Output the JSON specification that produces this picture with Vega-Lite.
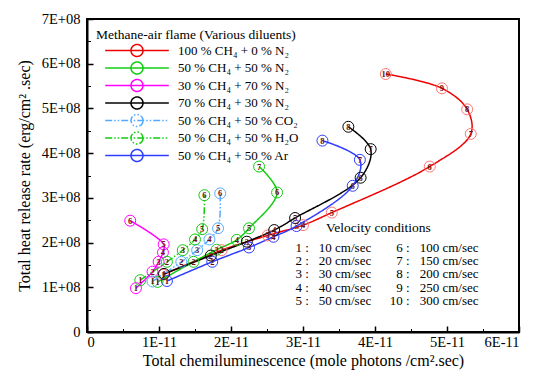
{
  "$schema": "https://vega.github.io/schema/vega-lite/v6.json",
  "width": 432,
  "height": 313,
  "autosize": {"type": "none"},
  "padding": {"left": 87, "top": 19, "right": 19, "bottom": 44},
  "config": {
    "font": "Liberation Serif, Times New Roman, serif",
    "view": {"stroke": "black", "strokeWidth": 2},
    "axis": {
      "grid": false,
      "domainColor": "black",
      "domainWidth": 2,
      "tickColor": "black",
      "tickWidth": 1.5,
      "tickSize": -6,
      "labelFont": "Liberation Serif, Times New Roman, serif",
      "titleFont": "Liberation Serif, Times New Roman, serif",
      "labelFontSize": 14.5,
      "titleFontSize": 16,
      "titleFontWeight": "normal",
      "labelColor": "black",
      "titleColor": "black"
    },
    "legend": {
      "labelFont": "Liberation Serif, Times New Roman, serif",
      "titleFont": "Liberation Serif, Times New Roman, serif"
    },
    "text": {"font": "Liberation Serif, Times New Roman, serif"}
  },
  "datasets": {
    "pts": [
      {"s": "100 % CH₄ + 0 % N₂", "v": 1, "x": 1.056e-11, "y": 1.28e8},
      {"s": "100 % CH₄ + 0 % N₂", "v": 2, "x": 1.87e-11, "y": 1.83e8},
      {"s": "100 % CH₄ + 0 % N₂", "v": 3, "x": 2.51e-11, "y": 2.16e8},
      {"s": "100 % CH₄ + 0 % N₂", "v": 4, "x": 3.0e-11, "y": 2.39e8},
      {"s": "100 % CH₄ + 0 % N₂", "v": 5, "x": 3.4e-11, "y": 2.67e8},
      {"s": "100 % CH₄ + 0 % N₂", "v": 6, "x": 4.76e-11, "y": 3.7e8},
      {"s": "100 % CH₄ + 0 % N₂", "v": 7, "x": 5.33e-11, "y": 4.43e8},
      {"s": "100 % CH₄ + 0 % N₂", "v": 8, "x": 5.28e-11, "y": 4.98e8},
      {"s": "100 % CH₄ + 0 % N₂", "v": 9, "x": 4.93e-11, "y": 5.45e8},
      {"s": "100 % CH₄ + 0 % N₂", "v": 10, "x": 4.15e-11, "y": 5.77e8},
      {"s": "50 % CH₄ + 50 % N₂", "v": 1, "x": 0.98e-11, "y": 1.12e8},
      {"s": "50 % CH₄ + 50 % N₂", "v": 2, "x": 1.48e-11, "y": 1.57e8},
      {"s": "50 % CH₄ + 50 % N₂", "v": 3, "x": 1.8e-11, "y": 1.84e8},
      {"s": "50 % CH₄ + 50 % N₂", "v": 4, "x": 2.08e-11, "y": 2.06e8},
      {"s": "50 % CH₄ + 50 % N₂", "v": 5, "x": 2.25e-11, "y": 2.32e8},
      {"s": "50 % CH₄ + 50 % N₂", "v": 6, "x": 2.64e-11, "y": 3.12e8},
      {"s": "50 % CH₄ + 50 % N₂", "v": 7, "x": 2.39e-11, "y": 3.7e8},
      {"s": "30 % CH₄ + 70 % N₂", "v": 1, "x": 0.68e-11, "y": 0.98e8},
      {"s": "30 % CH₄ + 70 % N₂", "v": 2, "x": 0.91e-11, "y": 1.35e8},
      {"s": "30 % CH₄ + 70 % N₂", "v": 3, "x": 0.995e-11, "y": 1.57e8},
      {"s": "30 % CH₄ + 70 % N₂", "v": 4, "x": 1.055e-11, "y": 1.78e8},
      {"s": "30 % CH₄ + 70 % N₂", "v": 5, "x": 1.065e-11, "y": 1.96e8},
      {"s": "30 % CH₄ + 70 % N₂", "v": 6, "x": 0.6e-11, "y": 2.49e8},
      {"s": "70 % CH₄ + 30 % N₂", "v": 1, "x": 1.07e-11, "y": 1.3e8},
      {"s": "70 % CH₄ + 30 % N₂", "v": 2, "x": 1.72e-11, "y": 1.71e8},
      {"s": "70 % CH₄ + 30 % N₂", "v": 3, "x": 2.22e-11, "y": 2.02e8},
      {"s": "70 % CH₄ + 30 % N₂", "v": 4, "x": 2.6e-11, "y": 2.28e8},
      {"s": "70 % CH₄ + 30 % N₂", "v": 5, "x": 2.89e-11, "y": 2.55e8},
      {"s": "70 % CH₄ + 30 % N₂", "v": 6, "x": 3.8e-11, "y": 3.45e8},
      {"s": "70 % CH₄ + 30 % N₂", "v": 7, "x": 3.94e-11, "y": 4.09e8},
      {"s": "70 % CH₄ + 30 % N₂", "v": 8, "x": 3.63e-11, "y": 4.59e8},
      {"s": "50 % CH₄ + 50 % CO₂", "v": 1, "x": 0.91e-11, "y": 1.13e8},
      {"s": "50 % CH₄ + 50 % CO₂", "v": 2, "x": 1.31e-11, "y": 1.57e8},
      {"s": "50 % CH₄ + 50 % CO₂", "v": 3, "x": 1.53e-11, "y": 1.83e8},
      {"s": "50 % CH₄ + 50 % CO₂", "v": 4, "x": 1.7e-11, "y": 2.07e8},
      {"s": "50 % CH₄ + 50 % CO₂", "v": 5, "x": 1.82e-11, "y": 2.32e8},
      {"s": "50 % CH₄ + 50 % CO₂", "v": 6, "x": 1.85e-11, "y": 3.1e8},
      {"s": "50 % CH₄ + 50 % H₂O", "v": 1, "x": 0.74e-11, "y": 1.16e8},
      {"s": "50 % CH₄ + 50 % H₂O", "v": 2, "x": 1.11e-11, "y": 1.57e8},
      {"s": "50 % CH₄ + 50 % H₂O", "v": 3, "x": 1.33e-11, "y": 1.83e8},
      {"s": "50 % CH₄ + 50 % H₂O", "v": 4, "x": 1.5e-11, "y": 2.07e8},
      {"s": "50 % CH₄ + 50 % H₂O", "v": 5, "x": 1.6e-11, "y": 2.3e8},
      {"s": "50 % CH₄ + 50 % H₂O", "v": 6, "x": 1.63e-11, "y": 3.06e8},
      {"s": "50 % CH₄ + 50 % Ar", "v": 1, "x": 1.11e-11, "y": 1.14e8},
      {"s": "50 % CH₄ + 50 % Ar", "v": 2, "x": 1.74e-11, "y": 1.57e8},
      {"s": "50 % CH₄ + 50 % Ar", "v": 3, "x": 2.25e-11, "y": 1.89e8},
      {"s": "50 % CH₄ + 50 % Ar", "v": 4, "x": 2.59e-11, "y": 2.13e8},
      {"s": "50 % CH₄ + 50 % Ar", "v": 5, "x": 2.91e-11, "y": 2.37e8},
      {"s": "50 % CH₄ + 50 % Ar", "v": 6, "x": 3.69e-11, "y": 3.27e8},
      {"s": "50 % CH₄ + 50 % Ar", "v": 7, "x": 3.79e-11, "y": 3.85e8},
      {"s": "50 % CH₄ + 50 % Ar", "v": 8, "x": 3.27e-11, "y": 4.28e8}
    ],
    "keys": [
      {"x": 3.08e-11, "y": 1.88e8, "t": "1 :"},
      {"x": 3.08e-11, "y": 1.585e8, "t": "2 :"},
      {"x": 3.08e-11, "y": 1.29e8, "t": "3 :"},
      {"x": 3.08e-11, "y": 0.995e8, "t": "4 :"},
      {"x": 3.08e-11, "y": 0.70e8, "t": "5 :"},
      {"x": 4.48e-11, "y": 1.88e8, "t": "6 :"},
      {"x": 4.48e-11, "y": 1.585e8, "t": "7 :"},
      {"x": 4.48e-11, "y": 1.29e8, "t": "8 :"},
      {"x": 4.48e-11, "y": 0.995e8, "t": "9 :"},
      {"x": 4.48e-11, "y": 0.70e8, "t": "10 :"}
    ],
    "vals": [
      {"x": 3.22e-11, "y": 1.88e8, "t": "10 cm/sec"},
      {"x": 3.22e-11, "y": 1.585e8, "t": "20 cm/sec"},
      {"x": 3.22e-11, "y": 1.29e8, "t": "30 cm/sec"},
      {"x": 3.22e-11, "y": 0.995e8, "t": "40 cm/sec"},
      {"x": 3.22e-11, "y": 0.70e8, "t": "50  cm/sec"},
      {"x": 4.62e-11, "y": 1.88e8, "t": "100 cm/sec"},
      {"x": 4.62e-11, "y": 1.585e8, "t": "150  cm/sec"},
      {"x": 4.62e-11, "y": 1.29e8, "t": "200 cm/sec"},
      {"x": 4.62e-11, "y": 0.995e8, "t": "250  cm/sec"},
      {"x": 4.62e-11, "y": 0.70e8, "t": "300  cm/sec"}
    ],
    "head": [
      {"x": 3.32e-11, "y": 2.33e8, "t": "Velocity conditions"}
    ]
  },
  "resolve": {"axis": {"x": "independent", "y": "independent"}},
  "layer": [
    {
      "encoding": {
        "x": {
          "field": "x", "type": "quantitative",
          "scale": {"domain": [0, 6e-11], "nice": false, "zero": false},
          "axis": {
            "orient": "bottom",
            "title": "Total chemiluminescence  (mole photons /cm².sec)",
            "values": [0, 1e-11, 2e-11, 3e-11, 4e-11, 5e-11, 6e-11],
            "labelExpr": "datum.value == 0 ? '0' : round(datum.value * 1e11) + 'E-11'",
            "labelPadding": 9,
            "titlePadding": 4
          }
        },
        "y": {
          "field": "y", "type": "quantitative",
          "scale": {"domain": [0, 7e8], "nice": false},
          "axis": {
            "orient": "left",
            "title": "Total heat release rate  (erg/cm² .sec)",
            "values": [0, 1e8, 2e8, 3e8, 4e8, 5e8, 6e8, 7e8],
            "labelExpr": "datum.value == 0 ? '0' : round(datum.value / 1e8) + 'E+08'",
            "labelPadding": 13,
            "titlePadding": 9
          }
        }
      },
      "layer": [
        {
          "data": {"name": "pts"},
          "mark": {"type": "line", "interpolate": "catmull-rom", "strokeWidth": 1.5},
          "encoding": {
            "order": {"field": "v", "type": "quantitative"},
            "color": {
              "field": "s", "type": "nominal",
              "scale": {
                "domain": ["100 % CH₄ + 0 % N₂", "50 % CH₄ + 50 % N₂", "30 % CH₄ + 70 % N₂", "70 % CH₄ + 30 % N₂", "50 % CH₄ + 50 % CO₂", "50 % CH₄ + 50 % H₂O", "50 % CH₄ + 50 % Ar"],
                "range": ["#ee0000", "#11cc11", "#ff00ff", "#000000", "#55aaff", "#11cc11", "#2e3cff"]
              },
              "legend": {
                "title": "Methane-air flame (Various diluents)",
                "orient": "top-left",
                "offset": 9,
                "padding": 0,
                "symbolType": "M-5.3,0L5.3,0M1,0A1,1,0,1,1,-1,0A1,1,0,1,1,1,0",
                "symbolSize": 144,
                "symbolStrokeWidth": 1.5,
                "symbolFillColor": "transparent",
                "symbolOffset": 34,
                "labelOffset": 34,
                "labelFontSize": 13,
                "labelLimit": 300,
                "titleFontSize": 13.5,
                "titleFontWeight": "normal",
                "titleLimit": 300,
                "titlePadding": 2,
                "rowPadding": -0.5
              }
            },
            "strokeDash": {
              "field": "s", "type": "nominal",
              "scale": {
                "domain": ["100 % CH₄ + 0 % N₂", "50 % CH₄ + 50 % N₂", "30 % CH₄ + 70 % N₂", "70 % CH₄ + 30 % N₂", "50 % CH₄ + 50 % CO₂", "50 % CH₄ + 50 % H₂O", "50 % CH₄ + 50 % Ar"],
                "range": [[1, 0], [1, 0], [1, 0], [1, 0], [7, 2, 1.5, 2, 1.5, 2], [7, 2, 1.5, 2, 1.5, 2], [1, 0]]
              },
              "legend": {
                "title": "Methane-air flame (Various diluents)",
                "orient": "top-left",
                "offset": 9,
                "padding": 0,
                "symbolType": "M-5.3,0L5.3,0M1,0A1,1,0,1,1,-1,0A1,1,0,1,1,1,0",
                "symbolSize": 144,
                "symbolStrokeWidth": 1.5,
                "symbolFillColor": "transparent",
                "symbolOffset": 34,
                "labelOffset": 34,
                "labelFontSize": 13,
                "labelLimit": 300,
                "titleFontSize": 13.5,
                "titleFontWeight": "normal",
                "titleLimit": 300,
                "titlePadding": 2,
                "rowPadding": -0.5
              }
            }
          }
        },
        {
          "data": {"name": "pts"},
          "mark": {"type": "point", "shape": "circle", "size": 120, "filled": false, "strokeWidth": 1, "opacity": 1},
          "encoding": {
            "stroke": {
              "field": "s", "type": "nominal", "legend": null,
              "scale": {
                "domain": ["100 % CH₄ + 0 % N₂", "50 % CH₄ + 50 % N₂", "30 % CH₄ + 70 % N₂", "70 % CH₄ + 30 % N₂", "50 % CH₄ + 50 % CO₂", "50 % CH₄ + 50 % H₂O", "50 % CH₄ + 50 % Ar"],
                "range": ["#ff7777", "#11cc11", "#ff00ff", "#000000", "#55aaff", "#11cc11", "#2e3cff"]
              }
            }
          }
        },
        {
          "data": {"name": "pts"},
          "mark": {"type": "text", "fontSize": 8.5, "fontWeight": "bold", "color": "#6b1010"},
          "encoding": {"text": {"field": "v", "type": "quantitative"}}
        },
        {
          "data": {"name": "keys"},
          "mark": {"type": "text", "align": "right", "fontSize": 13, "color": "black"},
          "encoding": {"text": {"field": "t", "type": "nominal"}}
        },
        {
          "data": {"name": "vals"},
          "mark": {"type": "text", "align": "left", "fontSize": 13, "color": "black"},
          "encoding": {"text": {"field": "t", "type": "nominal"}}
        }
      ]
    },
    {
      "data": {"name": "head"},
      "mark": {"type": "text", "align": "left", "fontSize": 13.5, "color": "black"},
      "encoding": {
        "x": {
          "field": "x", "type": "quantitative",
          "axis": {
            "orient": "bottom",
            "values": [5e-12, 1.5e-11, 2.5e-11, 3.5e-11, 4.5e-11, 5.5e-11],
            "labels": false, "domain": false, "title": null,
            "tickSize": -3.5, "tickWidth": 1
          }
        },
        "y": {
          "field": "y", "type": "quantitative",
          "axis": {
            "orient": "left",
            "values": [5e7, 1.5e8, 2.5e8, 3.5e8, 4.5e8, 5.5e8, 6.5e8],
            "labels": false, "domain": false, "title": null,
            "tickSize": -3.5, "tickWidth": 1
          }
        },
        "text": {"field": "t", "type": "nominal"}
      }
    }
  ]
}
